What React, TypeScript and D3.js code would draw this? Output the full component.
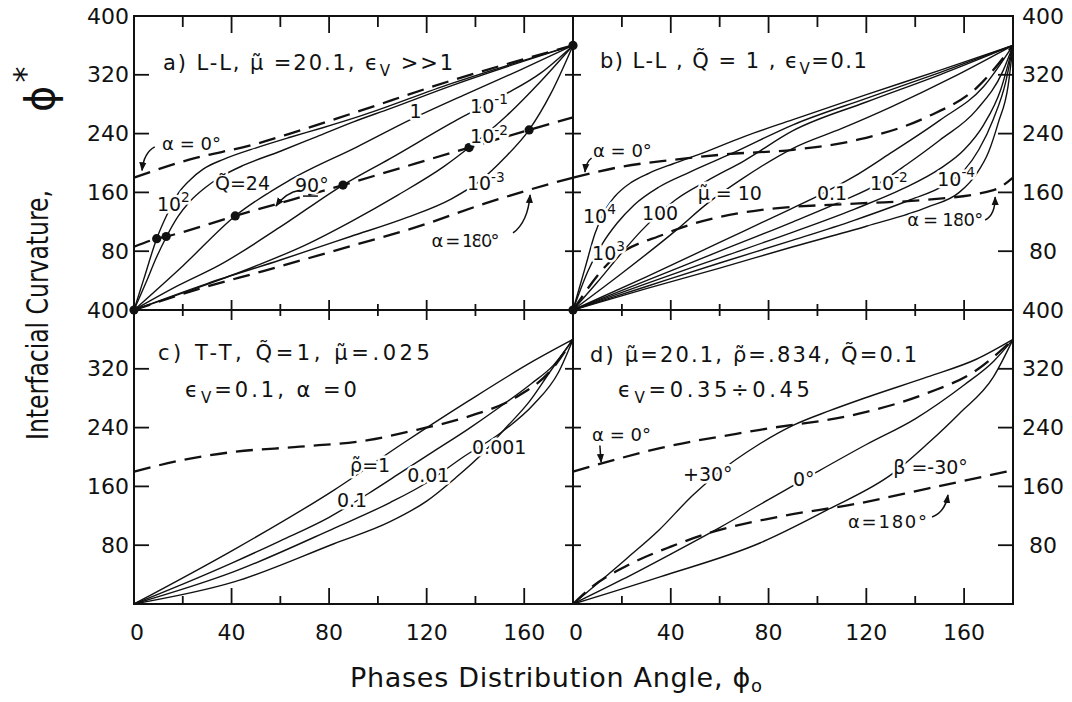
import * as d3 from 'd3';

type Pt = [number, number];
type Seg = [string, string?];

const W = 1072;
const H = 702;
const FONT = '"DejaVu Sans", sans-serif';

// axis values
const xMajor = [0, 40, 80, 120, 160];
const xAllTicks = [20, 40, 60, 80, 100, 120, 140, 160];
const yTickVals = [80, 160, 240, 320];
const yLabelVals = [80, 160, 240, 320, 400];

// ---- panel a: L-L, mu=20.1, eps>>1 (Q varies) ----
const aAlpha0: Pt[] = [[0, 180], [23, 205], [49, 225], [64, 240], [90, 268], [130, 312], [180, 360]];
const aAlpha90: Pt[] = [[0, 86], [9.3, 97], [13.2, 100], [41.5, 128], [85.7, 170], [137.4, 221], [162, 245], [180, 262]];
const aAlpha180: Pt[] = [[0, 0], [26, 28], [53, 53], [90, 88], [116, 113], [144, 145], [171, 172], [180, 180]];
const aQ100: Pt[] = [[0, 0], [4, 42], [9.3, 97], [14, 133], [18, 158], [23, 177], [28.5, 192], [36.7, 205], [50.4, 221], [64, 235], [77.4, 248], [92, 263], [130, 308], [180, 360]];
const aQ24: Pt[] = [[0, 0], [5, 38], [9, 70], [13.2, 99], [18, 127], [23, 148], [29, 166], [36, 182], [45, 197], [60, 216], [75, 236], [90, 256], [105, 274], [130, 305], [180, 360]];
const aQ1: Pt[] = [[0, 0], [20, 60], [41.5, 128], [64, 177], [91.5, 222], [114, 260], [135, 292], [158, 326], [180, 360]];
const aQ01: Pt[] = [[0, 0], [18, 33], [35, 61], [60, 113], [85.7, 170], [105, 206], [132.6, 259], [152, 293], [167, 323], [180, 360]];
const aQ001: Pt[] = [[0, 0], [25, 29], [50, 60], [70, 88], [88.8, 120], [108, 156], [127, 195], [137.4, 221], [153, 265], [167, 312], [180, 360]];
const aQ0001: Pt[] = [[0, 0], [30, 36], [60, 68], [88.8, 100], [112, 126], [130, 151], [142, 176], [152, 207], [162, 245], [171, 295], [180, 360]];
const aDots: Pt[] = [[0, 0], [9.3, 97], [13.2, 100], [41.5, 128], [85.7, 170], [137.4, 221], [162, 245], [180, 360]];

// ---- panel b: L-L, Q=1, eps=0.1 (mu varies) ----
const bAlpha0: Pt[] = [[0, 180], [20, 195], [40, 204], [63, 212], [90, 218], [117, 232], [145, 263], [165, 302], [180, 360]];
const bAlpha180: Pt[] = [[0, 0], [14, 62], [38, 104], [76.5, 136], [117, 145], [145, 150], [172, 163], [180, 180]];
const bMu1e4: Pt[] = [[0, 0], [5, 58], [9, 104], [13, 135], [17, 154], [24, 174], [31, 186], [41, 199], [51, 211], [70, 236], [90, 259], [120, 293], [150, 326], [180, 360]];
const bMu1e3: Pt[] = [[0, 0], [6, 52], [12, 90], [18, 118], [25, 143], [35, 167], [48, 188], [65, 213], [90, 252], [120, 288], [150, 323], [180, 360]];
const bMu100: Pt[] = [[0, 0], [10, 38], [20, 78], [28, 108], [42, 150], [55, 176], [70, 203], [90, 244], [120, 283], [150, 320], [180, 360]];
const bMu10: Pt[] = [[0, 0], [20, 50], [42, 108], [55, 145], [69, 178], [90, 220], [110, 247], [130, 276], [155, 316], [180, 360]];
const bMu01: Pt[] = [[0, 0], [30, 45], [60, 92], [88.8, 137], [100, 155], [114.7, 181], [129.7, 213], [150, 258], [168, 304], [180, 360]];
const bMu1em2: Pt[] = [[0, 0], [30, 40], [60, 80], [90, 120], [110, 148], [125, 172], [136.5, 198], [150, 231], [165, 272], [176, 326], [180, 360]];
const bMu1em3: Pt[] = [[0, 0], [30, 36], [60, 71], [90, 106], [115, 137], [135, 165], [150, 192], [160, 218], [168, 252], [175, 300], [180, 360]];
const bMu1em4: Pt[] = [[0, 0], [30, 32], [60, 64], [90, 95], [115, 122], [138, 150], [152, 170], [160, 190], [166, 218], [172, 260], [177, 310], [180, 360]];
const bMu1em5: Pt[] = [[0, 0], [30, 29], [60, 57], [90, 86], [120, 114], [145, 140], [158, 160], [165, 185], [170, 215], [174, 255], [178, 305], [180, 360]];
const bDots: Pt[] = [[0, 0]];

// ---- panel c: T-T (rho varies) ----
const cAlpha0: Pt[] = [[0, 180], [20, 196], [41, 207], [68, 214], [96, 223], [116, 237], [137, 255], [157, 282], [171, 318], [180, 360]];
const cRho1: Pt[] = [[0, 0], [41, 74], [82, 155], [110, 218], [137, 276], [164, 331], [180, 360]];
const cRho01: Pt[] = [[0, 0], [20, 27], [41, 57], [60, 86], [80, 118], [96, 150], [110, 180], [123, 208], [137, 238], [150, 268], [163, 300], [172, 325], [180, 360]];
const cRho001: Pt[] = [[0, 0], [41, 44], [82, 103], [105, 138], [120, 165], [135, 200], [150, 232], [164, 272], [174, 315], [180, 360]];
const cRho0001: Pt[] = [[0, 0], [41, 30], [82, 82], [105, 112], [120, 140], [132, 172], [143, 205], [152, 238], [162, 275], [171, 318], [180, 360]];

// ---- panel d: beta varies ----
const dAlpha0: Pt[] = [[0, 180], [35.6, 212], [76.5, 237], [117, 259], [145, 287], [165, 318], [180, 360]];
const dAlpha180: Pt[] = [[0, 0], [8, 24], [22, 52], [40, 78], [56, 97], [83, 118], [117, 137], [145, 157], [180, 182]];
const dBetaP30: Pt[] = [[0, 0], [22, 62], [35, 100], [49, 148], [60, 180], [75, 215], [90, 243], [105, 263], [120, 281], [145, 309], [165, 333], [180, 360]];
const dBeta0: Pt[] = [[0, 0], [20, 33], [40, 68], [60, 104], [80, 142], [100, 180], [120, 217], [140, 252], [160, 298], [172, 330], [180, 360]];
const dBetaM30: Pt[] = [[0, 0], [35.6, 37], [76.5, 83], [104, 128], [131, 178], [145, 218], [158, 259], [172, 309], [180, 360]];

// scales
const xLeft = d3.scaleLinear().domain([0, 180]).range([134, 573]);
const xRight = d3.scaleLinear().domain([0, 180]).range([573, 1013]);
const yTop = d3.scaleLinear().domain([0, 400]).range([310, 16]);
const yBot = d3.scaleLinear().domain([0, 400]).range([604, 310]);

type Lbl = { at: Pt; segs: Seg[]; size: number; len?: number };
type Arrow = { from: Pt; ctrl: Pt; to: Pt; head?: boolean };

const panels = [
  {
    id: 'a', xs: xLeft, ys: yTop,
    solids: [aQ100, aQ24, aQ1, aQ01, aQ001, aQ0001],
    dashed: [aAlpha0, aAlpha90, aAlpha180],
    dots: aDots,
    labels: [
      { at: [11.9, 326.5], segs: [['a) L-L,  μ̃ =20.1,  ϵ'], ['V', 'sub'], [' >>1']], size: 21, len: 290 },
      { at: [11.5, 217.7], segs: [['α = 0°']], size: 18 },
      { at: [9.4, 134.7], segs: [['10'], ['2', 'sup']], size: 19 },
      { at: [33.2, 163], segs: [['Q̃=24']], size: 19 },
      { at: [66, 160.5], segs: [['90°']], size: 19 },
      { at: [113, 261], segs: [['1']], size: 19 },
      { at: [137.8, 268], segs: [['10'], ['-1', 'sup']], size: 19 },
      { at: [137.8, 227], segs: [['10'], ['-2', 'sup']], size: 19 },
      { at: [136.5, 163], segs: [['10'], ['-3', 'sup']], size: 19 },
      { at: [122, 85.7], segs: [['α = 180°']], size: 18, len: 68 },
    ] as Lbl[],
    arrows: [
      { from: [8.5, 222], ctrl: [4, 214], to: [3.3, 190], head: true },
      { from: [68, 163], ctrl: [62.3, 160], to: [58.2, 141.5], head: true },
      { from: [69.3, 155], ctrl: [72.3, 155], to: [75.4, 155] },
      { from: [155.4, 104.8], ctrl: [161.5, 119.7], to: [162.4, 156.5], head: true },
    ] as Arrow[],
  },
  {
    id: 'b', xs: xRight, ys: yTop,
    solids: [bMu1e4, bMu1e3, bMu100, bMu10, bMu01, bMu1em2, bMu1em3, bMu1em4, bMu1em5],
    dashed: [bAlpha0, bAlpha180],
    dots: bDots,
    labels: [
      { at: [11, 329], segs: [['b) L-L ,  Q̃ = 1 ,   ϵ'], ['V', 'sub'], ['=0.1']], size: 21, len: 267 },
      { at: [8.2, 208], segs: [['α = 0°']], size: 18 },
      { at: [4.1, 118.4], segs: [['10'], ['4', 'sup']], size: 19 },
      { at: [7.8, 68], segs: [['10'], ['3', 'sup']], size: 19 },
      { at: [28.2, 122.4], segs: [['100']], size: 19 },
      { at: [51, 149.7], segs: [['μ̃ = 10']], size: 19 },
      { at: [99.8, 149.7], segs: [['0.1']], size: 19 },
      { at: [121.5, 163], segs: [['10'], ['-2', 'sup']], size: 19 },
      { at: [149, 168.7], segs: [['10'], ['-4', 'sup']], size: 19 },
      { at: [136.7, 114.3], segs: [['α = 180°']], size: 18, len: 76 },
    ] as Lbl[],
    arrows: [
      { from: [7.6, 206.8], ctrl: [5.3, 201], to: [4.9, 187.8], head: true },
      { from: [168.6, 122.4], ctrl: [172.7, 129], to: [172.7, 153.7], head: true },
    ] as Arrow[],
  },
  {
    id: 'c', xs: xLeft, ys: yBot,
    solids: [cRho1, cRho01, cRho001, cRho0001],
    dashed: [cAlpha0],
    dots: [] as Pt[],
    labels: [
      { at: [9.8, 332], segs: [['c) T-T,  Q̃=1,  μ̃=.025']], size: 21, len: 272 },
      { at: [20.9, 281.6], segs: [['ϵ'], ['V', 'sub'], ['=0.1,   α =0']], size: 21, len: 172 },
      { at: [88.6, 179.6], segs: [['ρ̃=1']], size: 19 },
      { at: [83.2, 132], segs: [['0.1']], size: 19 },
      { at: [112, 166], segs: [['0.01']], size: 19 },
      { at: [138.6, 204], segs: [['0.001']], size: 19 },
    ] as Lbl[],
    arrows: [] as Arrow[],
  },
  {
    id: 'd', xs: xRight, ys: yBot,
    solids: [dBetaP30, dBeta0, dBetaM30],
    dashed: [dAlpha0, dAlpha180],
    dots: [] as Pt[],
    labels: [
      { at: [7, 329], segs: [['d) μ̃=20.1,  ρ̃=.834,  Q̃=0.1']], size: 21, len: 327 },
      { at: [18.4, 281.6], segs: [['ϵ'], ['V', 'sub'], ['=0.35÷0.45']], size: 21, len: 192 },
      { at: [7.8, 221.8], segs: [['α = 0°']], size: 18 },
      { at: [45, 167], segs: [['+30°']], size: 19 },
      { at: [90, 160.5], segs: [['0°']], size: 19 },
      { at: [131, 177], segs: [['β =-30°']], size: 19 },
      { at: [112.5, 103.4], segs: [['α=180°']], size: 18, len: 79 },
    ] as Lbl[],
    arrows: [
      { from: [11, 215.6], ctrl: [11.2, 205], to: [11.5, 193], head: true },
      { from: [146.9, 118.4], ctrl: [152.2, 125], to: [153.4, 148.3], head: true },
    ] as Arrow[],
  },
];

function Rich({ x, y, segs, size, len }: { x: number; y: number; segs: Seg[]; size: number; len?: number }) {
  let shift = 0;
  return (
    <text x={x} y={y} fontSize={size} textLength={len} lengthAdjust={len ? 'spacing' : undefined}
      stroke="#fff" strokeWidth={5} strokeLinejoin="round" style={{ paintOrder: 'stroke' }} fill="#111">
      {segs.map((s, i) => {
        const target = s[1] === 'sup' ? -0.45 * size : s[1] === 'sub' ? 0.3 * size : 0;
        const dy = target - shift;
        shift = target;
        return <tspan key={i} dy={dy} fontSize={s[1] ? size * 0.72 : size}>{s[0]}</tspan>;
      })}
    </text>
  );
}

export default function App() {
  const left = 134, right = 1013, top = 16, mid = 310, bottom = 604, vmid = 573;

  return (
    <svg width={W} height={H} viewBox={`0 0 ${W} ${H}`} style={{ display: 'block', margin: '-8px', background: '#fff' }}
      fontFamily={FONT}>
      <defs>
        <marker id="ah" viewBox="0 0 10 10" refX={9} refY={5} markerWidth={6} markerHeight={6} orient="auto">
          <path d="M0,1 L10,5 L0,9 z" fill="#111" />
        </marker>
      </defs>
      <rect width={W} height={H} fill="#fff" />

      {panels.map(p => {
        const line = d3.line<Pt>().x(d => p.xs(d[0])).y(d => p.ys(d[1])).curve(d3.curveMonotoneX);
        return (
          <g key={p.id}>
            {p.dashed.map((s, i) => (
              <path key={'d' + i} d={line(s) || ''} fill="none" stroke="#111" strokeWidth={2.3} strokeDasharray="17 9" />
            ))}
            {p.solids.map((s, i) => (
              <path key={'s' + i} d={line(s) || ''} fill="none" stroke="#111" strokeWidth={1.4} />
            ))}
            {p.dots.map((d, i) => (
              <circle key={'c' + i} cx={p.xs(d[0])} cy={p.ys(d[1])} r={4.6} fill="#111" />
            ))}
            {p.labels.map((l, i) => (
              <Rich key={'l' + i} x={p.xs(l.at[0])} y={p.ys(l.at[1])} segs={l.segs} size={l.size} len={l.len} />
            ))}
            {p.arrows.map((a, i) => (
              <path key={'a' + i}
                d={`M${p.xs(a.from[0])},${p.ys(a.from[1])} Q${p.xs(a.ctrl[0])},${p.ys(a.ctrl[1])} ${p.xs(a.to[0])},${p.ys(a.to[1])}`}
                fill="none" stroke="#111" strokeWidth={1.5} markerEnd={a.head ? 'url(#ah)' : undefined} />
            ))}
          </g>
        );
      })}

      {/* frames */}
      <g stroke="#111" strokeWidth={2} fill="none">
        <rect x={left} y={top} width={right - left} height={bottom - top} />
        <line x1={vmid} y1={top} x2={vmid} y2={bottom} />
        <line x1={left} y1={mid} x2={right} y2={mid} />
      </g>

      {/* x ticks */}
      <g stroke="#111" strokeWidth={1.8}>
        {[xLeft, xRight].map((xs, k) => xAllTicks.map(v => {
          const major = v % 40 === 0;
          const x = xs(v);
          return (
            <g key={k + '-' + v}>
              <line x1={x} x2={x} y1={top} y2={top + (major ? 17 : 11)} />
              <line x1={x} x2={x} y1={mid - (major ? 10 : 6)} y2={mid + (major ? 10 : 6)} />
              <line x1={x} x2={x} y1={bottom} y2={bottom - (major ? 16 : 8)} />
            </g>
          );
        }))}
        {[yTop, yBot].map((ys, k) => yTickVals.map(v => {
          const y = ys(v);
          return (
            <g key={'y' + k + '-' + v}>
              <line x1={left} x2={left + 15} y1={y} y2={y} />
              <line x1={vmid - 8} x2={vmid + 8} y1={y} y2={y} />
              <line x1={right - 15} x2={right} y1={y} y2={y} />
            </g>
          );
        }))}
      </g>

      {/* tick labels */}
      <g fontSize={22} fill="#111">
        {[yTop, yBot].map((ys, k) => yLabelVals.map(v => (
          <g key={'yl' + k + v}>
            <text x={129} y={ys(v)} textAnchor="end" dominantBaseline="central">{v}</text>
            <text x={1043} y={ys(v)} textAnchor="middle" dominantBaseline="central">{v}</text>
          </g>
        )))}
        {[xLeft, xRight].map((xs, k) => xMajor.map(v => (
          <text key={'xl' + k + v} x={xs(v) + (v === 0 ? 3 : 0)} y={640} textAnchor="middle">{v}</text>
        )))}
      </g>

      {/* axis titles */}
      <text transform="translate(48,440) rotate(-90)" fontSize={30} fill="#111" textLength={250} lengthAdjust="spacingAndGlyphs">
        Interfacial  Curvature,
      </text>
      <text transform="translate(54,112) rotate(-90)" fontSize={40} fill="#111">
        ϕ<tspan dx={3} dy={-18} fontSize={32}>*</tspan>
      </text>
      <text x={350} y={687} fontSize={27} fill="#111" textLength={412} lengthAdjust="spacing">
        Phases  Distribution  Angle,  ϕ<tspan dy={5} fontSize={18}>o</tspan>
      </text>
    </svg>
  );
}
